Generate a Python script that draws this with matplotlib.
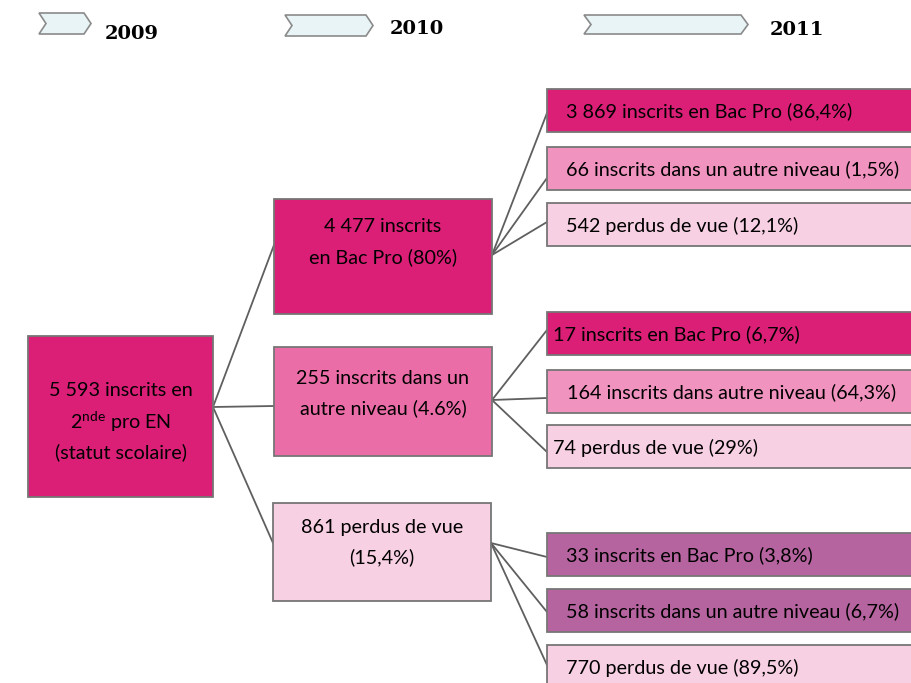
import matplotlib.pyplot as plt
from matplotlib.patches import Rectangle, Polygon

plt.rcParams['font.family'] = ['Lato', 'DejaVu Sans']
plt.rcParams['mathtext.fontset'] = 'custom'
plt.rcParams['mathtext.rm'] = 'Lato'

# data
years = ["2009", "2010", "2011"]
root_label = ["5 593 inscrits en", r"2$^{\mathrm{nde}}$ pro EN", "(statut scolaire)"]
level2_labels = [
    ["4 477 inscrits", "en Bac Pro (80%)"],
    ["255 inscrits dans un", "autre niveau (4.6%)"],
    ["861 perdus de vue", "(15,4%)"],
]
level3_labels = [
    ["3 869 inscrits en Bac Pro (86,4%)",
     "66 inscrits dans un autre niveau (1,5%)",
     "542 perdus de vue (12,1%)"],
    ["17 inscrits en Bac Pro (6,7%)",
     "164 inscrits dans autre niveau (64,3%)",
     "74 perdus de vue (29%)"],
    ["33 inscrits en Bac Pro (3,8%)",
     "58 inscrits dans un autre niveau (6,7%)",
     "770 perdus de vue (89,5%)"],
]

# colours
dark = "#DB1F77"
mid = "#EA6DA7"
soft = "#F093BF"
pale = "#F8D0E3"
purple = "#B5649F"
edge = "#767676"
level2_colors = [dark, mid, pale]
level3_colors = [[dark, soft, pale], [dark, soft, pale], [purple, purple, pale]]

# layout (pixels)
W, H = 912, 683
fig = plt.figure(figsize=(W / 100, H / 100), dpi=100)
ax = fig.add_axes([0, 0, 1, 1])
ax.set_xlim(0, W)
ax.set_ylim(H, 0)
ax.axis("off")

FS = 14.2


def box(x0, y0, x1, y1, color):
    ax.add_patch(Rectangle((x0, y0), x1 - x0, y1 - y0, facecolor=color,
                           edgecolor=edge, linewidth=1.3, zorder=2))


def link(p, q):
    ax.plot([p[0], q[0]], [p[1], q[1]], color="#5f5f5f", lw=1.3, zorder=1)


# header chevrons
chevrons = [(39, 91, 13, 34), (285, 373, 15, 36), (584, 748, 15, 34)]
year_pos = [(132, 34), (417, 29), (797, 30)]
for (x0, x1, y0, y1), (tx, ty), yr in zip(chevrons, year_pos, years):
    d = 7
    ym = (y0 + y1) / 2
    pts = [(x0, y0), (x1 - d, y0), (x1, ym), (x1 - d, y1), (x0, y1), (x0 + d, ym)]
    ax.add_patch(Polygon(pts, closed=True, facecolor="#E8F4F6",
                         edgecolor="#8a8a8a", lw=1.2))
    ax.text(tx, ty, yr, ha="center", va="center", fontsize=14,
            fontweight="bold", family="DejaVu Serif")

# root
box(28, 336, 213, 497, dark)
for i, line in enumerate(root_label):
    ax.text(121, 391 + 30.5 * i, line, ha="center", va="center", fontsize=FS, zorder=3)
root_out = (213, 407)

# level 2
l2_boxes = [(274, 199, 492, 314), (274, 347, 492, 456), (273, 503, 491, 601)]
l2_in = [245, 406, 543]
l2_out = [255, 400, 543]
l2_text_y = [227, 378, 527]
for (x0, y0, x1, y1), lines, col, yi, yo, ty in zip(l2_boxes, level2_labels, level2_colors,
                                                  l2_in, l2_out, l2_text_y):
    box(x0, y0, x1, y1, col)
    link(root_out, (x0, yi))
    for i, line in enumerate(lines):
        ax.text((x0 + x1) / 2, ty + 30 * i, line, ha="center", va="center",
                fontsize=FS, zorder=3)

# level 3
l3_tops = [[89, 147, 203], [312, 370, 425], [533, 589, 645]]
l3_in = [[113, 178, 222], [330, 398, 452], [557, 612, 665]]
l3_textx = [[566, 566, 566], [553, 567, 553], [566, 566, 566]]
h3 = 43
for g in range(3):
    src = (l2_boxes[g][2], l2_out[g])
    for k in range(3):
        y0 = l3_tops[g][k]
        box(547, y0, W + 5, y0 + h3, level3_colors[g][k])
        link(src, (547, l3_in[g][k]))
        ax.text(l3_textx[g][k], y0 + h3 / 2 + 1, level3_labels[g][k], ha="left",
                va="center", fontsize=FS, zorder=3)

fig.savefig("out.png", dpi=100)
